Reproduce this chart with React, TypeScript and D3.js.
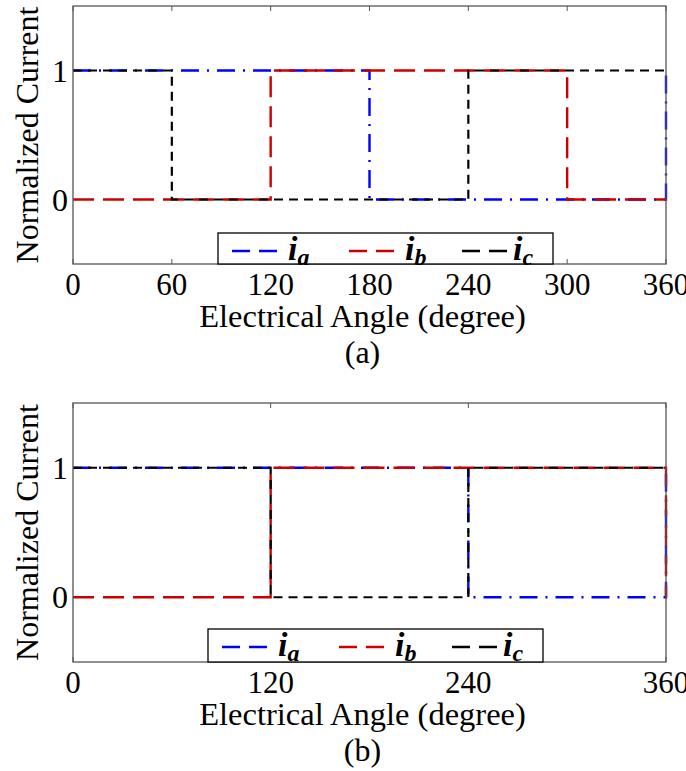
import React from "react";
import * as d3 from "d3";

type Pt = [number, number];

// Panel (a) series: [angle, normalized current]
const aIa: Pt[] = [[0, 1], [180, 1], [180, 0], [360, 0], [360, 1]];
const aIb: Pt[] = [[0, 0], [120, 0], [120, 1], [300, 1], [300, 0], [360, 0]];
const aIc: Pt[] = [[0, 1], [60, 1], [60, 0], [240, 0], [240, 1], [360, 1]];

// Panel (b) series
const bIa: Pt[] = [[0, 1], [240, 1], [240, 0], [360, 0], [360, 1]];
const bIb: Pt[] = [[0, 0], [120, 0], [120, 1], [360, 1], [360, 0]];
const bIc: Pt[] = [[0, 1], [120, 1], [120, 0], [240, 0], [240, 1], [360, 1]];

const aTicks = [0, 60, 120, 180, 240, 300, 360];
const bTicks = [0, 120, 240, 360];
const yTicks = [0, 1];
const seriesNames = ["a", "b", "c"];
const xLabel = "Electrical Angle (degree)";
const yLabel = "Normalized Current";

const FONT = "'Liberation Serif', 'Times New Roman', serif";

const styles = [
  { color: "#0000ff", dash: "18,8,2,8", width: 2.4 },
  { color: "#cc0000", dash: "21,9", width: 2.4 },
  { color: "#000000", dash: "9,6", width: 2.2 },
];

interface PanelProps {
  top: number;
  bottom: number;
  ticks: number[];
  series: Pt[][];
  legendX: number;
  legendTop: number;
  caption: string;
}

function Panel({ top, bottom, ticks, series, legendX, legendTop, caption }: PanelProps) {
  const left = 73;
  const right = 666;
  const x = d3.scaleLinear().domain([0, 360]).range([left, right]);
  const y = d3.scaleLinear().domain([-0.5, 1.5]).range([bottom, top]);
  const line = d3
    .line<Pt>()
    .x((d) => x(d[0]))
    .y((d) => y(d[1]));
  const tickLen = 5;
  const legendW = 335;
  const legendOffsets = [
    { line: 14, text: 70 },
    { line: 131, text: 187 },
    { line: 244, text: 295 },
  ];
  const ly = legendTop + 18;
  return (
    <g>
      {series.map((s, i) => (
        <path
          key={i}
          d={line(s) || ""}
          fill="none"
          stroke={styles[i].color}
          strokeWidth={styles[i].width}
          strokeDasharray={styles[i].dash}
        />
      ))}
      <rect
        x={left}
        y={top}
        width={right - left}
        height={bottom - top}
        fill="none"
        stroke="#555"
        strokeWidth={1.3}
      />
      {ticks.map((t) => (
        <g key={t}>
          <line x1={x(t)} x2={x(t)} y1={bottom} y2={bottom - tickLen} stroke="#555" strokeWidth={1} />
          <line x1={x(t)} x2={x(t)} y1={top} y2={top + tickLen} stroke="#555" strokeWidth={1} />
          <text
            x={x(t)}
            y={bottom + 31}
            textAnchor="middle"
            fontFamily={FONT}
            fontSize={31}
            fill="#000"
          >
            {t}
          </text>
        </g>
      ))}
      {yTicks.map((t) => (
        <text
          key={t}
          x={68}
          y={y(t) + 11}
          textAnchor="end"
          fontFamily={FONT}
          fontSize={32}
          fill="#000"
        >
          {t}
        </text>
      ))}
      <text
        transform={`translate(38, ${(top + bottom) / 2}) rotate(-90)`}
        textAnchor="middle"
        fontFamily={FONT}
        fontSize={32}
        fill="#000"
      >
        {yLabel}
      </text>
      <text
        x={(left + right) / 2 - 7}
        y={bottom + 63}
        textAnchor="middle"
        fontFamily={FONT}
        fontSize={32.5}
        fill="#000"
      >
        {xLabel}
      </text>
      <text
        x={(left + right) / 2 - 7}
        y={bottom + 99}
        textAnchor="middle"
        fontFamily={FONT}
        fontSize={32}
        fill="#000"
      >
        {caption}
      </text>
      <rect
        x={legendX}
        y={legendTop}
        width={legendW}
        height={bottom - legendTop}
        fill="#fff"
        stroke="#000"
        strokeWidth={1.3}
      />
      {seriesNames.map((n, i) => (
        <g key={n}>
          <line
            x1={legendX + legendOffsets[i].line}
            x2={legendX + legendOffsets[i].line + 45}
            y1={ly}
            y2={ly}
            stroke={styles[i].color}
            strokeWidth={2.4}
            strokeDasharray="18,9"
          />
          <text
            x={legendX + legendOffsets[i].text}
            y={ly + 9}
            fontFamily={FONT}
            fontStyle="italic"
            fontWeight="bold"
            fontSize={34}
            fill="#000"
          >
            i
            <tspan fontSize={24} dy={5}>
              {n}
            </tspan>
          </text>
        </g>
      ))}
    </g>
  );
}

export default function App() {
  return (
    <svg width={686} height={771} style={{ position: "absolute", left: 0, top: 0, background: "#fff" }}>
      <rect width={686} height={771} fill="#fff" />
      <Panel
        top={6}
        bottom={264}
        ticks={aTicks}
        series={[aIa, aIb, aIc]}
        legendX={218}
        legendTop={233}
        caption="(a)"
      />
      <Panel
        top={403}
        bottom={662}
        ticks={bTicks}
        series={[bIa, bIb, bIc]}
        legendX={208}
        legendTop={629}
        caption="(b)"
      />
    </svg>
  );
}
